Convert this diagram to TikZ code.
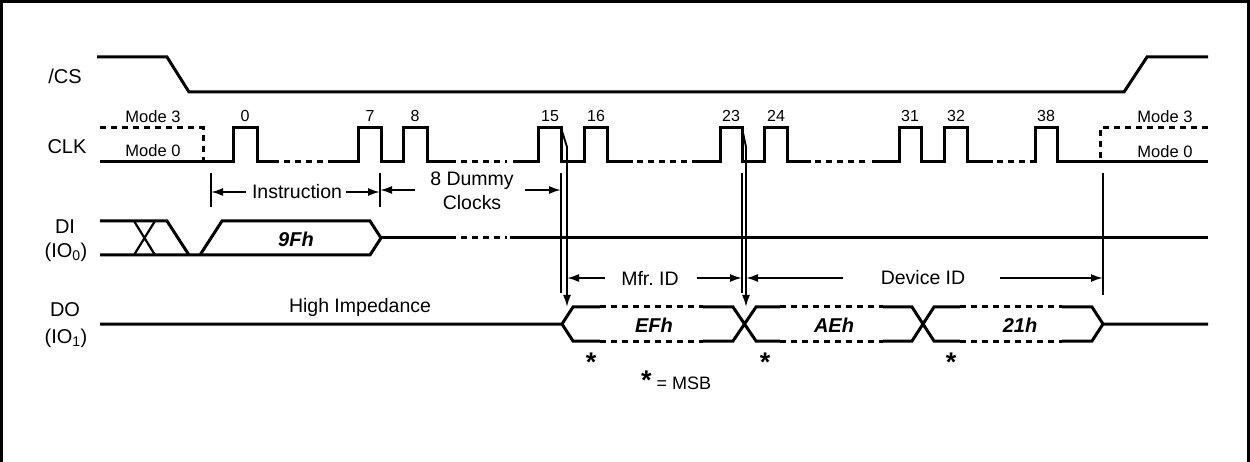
\documentclass[tikz,border=0pt]{standalone}
\usepackage{fontspec}
\setmainfont{Liberation Sans}
\usetikzlibrary{arrows.meta}
\begin{document}
\begin{tikzpicture}[x=1pt,y=-1pt,
  sig/.style={line width=3pt},
  dsh/.style={line width=3pt,dash pattern=on 6pt off 5pt},
  guide/.style={line width=1.9pt},
  dim/.style={line width=1.9pt,-{Latex[length=12pt,width=8pt]}},
  big/.style={inner sep=0pt,font=\fontsize{20}{22}\selectfont},
  med/.style={inner sep=0pt,font=\fontsize{19.5}{22}\selectfont},
  small/.style={inner sep=0pt,font=\fontsize{16}{18}\selectfont},
  modelbl/.style={inner sep=0pt,font=\fontsize{16.5}{18}\selectfont},
  buslbl/.style={inner sep=0pt,font=\fontsize{20}{22}\selectfont\bfseries\itshape},
  star/.style={inner sep=0pt,font=\fontsize{27}{28}\selectfont\bfseries}]
\useasboundingbox (0,0) rectangle (1250,462);
\fill[white] (0,0) rectangle (1250,462);
\draw[line width=3pt] (1.5,462) -- (1.5,1.5) -- (1248.5,1.5) -- (1248.5,462);

% signal names
\node[big] (ncs) at (65,76) {/CS};
\node[big] (nclk) at (67,147) {CLK};
\node[big] (ndi) at (65,227) {DI};
\node[big] (ndi2) at (66,252) {(IO\textsubscript{0})};
\node[big] (ndo) at (65,310) {DO};
\node[big] (ndo2) at (66,338) {(IO\textsubscript{1})};

% /CS
\draw[sig] (97,57) -- (167,57) -- (189,92) -- (1124,92) -- (1147,57) -- (1208,57);

% CLK
\draw[dsh] (100,128) -- (203,128) -- (203,162);
\draw[dsh] (1208,128) -- (1100,128) -- (1100,162);
\node[modelbl] (m3l) at (153,117) {Mode 3};
\node[modelbl] (m0l) at (153,151) {Mode 0};
\node[modelbl] (m3r) at (1165,117) {Mode 3};
\node[modelbl] (m0r) at (1165,152) {Mode 0};
\draw[sig] (100,162) -- (233,162) -- (233,128) -- (257,128) -- (257,162) -- (273,162);
\draw[dsh] (273,162) -- (333,162);
\draw[sig] (333,162) -- (358,162) -- (358,128) -- (381,128) -- (381,162) -- (403,162) -- (403,128) -- (427,128) -- (427,162) -- (450,162);
\draw[dsh] (450,162) -- (507,162);
\draw[sig] (513,162) -- (538,162) -- (538,128) -- (561,128) -- (561,162) -- (584,162) -- (584,128) -- (607,128) -- (607,162) -- (633,162);
\draw[dsh] (637,162) -- (688,162);
\draw[sig] (692,162) -- (720,162) -- (720,128) -- (742,128) -- (742,162) -- (764,162) -- (764,128) -- (787,128) -- (787,162) -- (811,162);
\draw[dsh] (815,162) -- (870,162);
\draw[sig] (872,162) -- (899,162) -- (899,128) -- (921,128) -- (921,162) -- (944,162) -- (944,128) -- (967,128) -- (967,162) -- (993,162);
\draw[dsh] (997,162) -- (1030,162);
\draw[sig] (1030,162) -- (1035,162) -- (1035,128) -- (1057,128) -- (1057,162) -- (1208,162);
\node[small] (c0) at (245,116) {0};
\node[small] (c7) at (370,116) {7};
\node[small] (c8) at (415,116) {8};
\node[small] (c15) at (550,116) {15};
\node[small] (c16) at (596,116) {16};
\node[small] (c23) at (731,116) {23};
\node[small] (c24) at (776,116) {24};
\node[small] (c31) at (910,116) {31};
\node[small] (c32) at (956,116) {32};
\node[small] (c38) at (1046,116) {38};

% DI
\draw[sig] (100,221) -- (167,221) -- (189,255);
\draw[sig] (100,255) -- (370,255) -- (381,238) -- (370,221) -- (222,221) -- (200,255);
\draw[line width=2.2pt] (134,255) -- (155,221) (134,221) -- (155,255);
\draw[sig] (381,238) -- (450,238);
\draw[dsh] (450,238) -- (507,238);
\draw[sig] (510,238) -- (1208,238);
\node[buslbl] (b9f) at (296,239) {9Fh};

% DO
\draw[sig] (100,324) -- (562,324) -- (573,307) -- (600,307) (562,324) -- (573,341) -- (600,341);
\draw[dsh] (600,307) -- (703,307) (600,341) -- (703,341);
\draw[sig] (703,307) -- (733,307) -- (756,341) -- (780,341) (703,341) -- (733,341) -- (756,307) -- (780,307);
\draw[dsh] (780,307) -- (883,307) (780,341) -- (883,341);
\draw[sig] (883,307) -- (912,307) -- (934,341) -- (960,341) (883,341) -- (912,341) -- (934,307) -- (960,307);
\draw[dsh] (960,307) -- (1062,307) (960,341) -- (1062,341);
\draw[sig] (1062,307) -- (1092,307) -- (1103,324) -- (1092,341) -- (1062,341) (1103,324) -- (1208,324);
\node[buslbl] (bef) at (654,325) {EFh};
\node[buslbl] (bae) at (834,325) {AEh};
\node[buslbl] (b21) at (1020,325) {21h};
\node[med] (hiz) at (360,307) {High Impedance};
\node[star] (s1) at (591,362) {*};
\node[star] (s2) at (765,362) {*};
\node[star] (s3) at (951,362) {*};
\node[inner sep=0pt,anchor=base west] (msb) at (641,389) {{\fontsize{27}{28}\selectfont\bfseries *}{\fontsize{18}{20}\selectfont\ = MSB}};

% timing guides
\coordinate (t0) at (211,173);
\coordinate (t1) at (380,173);
\coordinate (t2) at (561,173);
\coordinate (t3) at (742,173);
\coordinate (t4) at (1103,173);
\coordinate (e15) at (561,128);
\coordinate (e23) at (742,128);
\draw[guide] (t0) -- (211,207) (t1) -- (380,207);
\draw[guide] (t2) -- (561,293) (t3) -- (742,293) (t4) -- (1103,295);
\draw[dim] (e15) -- (567,147) -- (567,307);
\draw[dim] (e23) -- (746,147) -- (746,307);

\node[med] (instr) at (297,192) {Instruction};
\draw[dim] ([xshift=-6pt]instr.west) -- (t0 |- instr.west);
\draw[dim] ([xshift=4pt]instr.east) -- (t1 |- instr.east);
\node[med,align=center] (dummy) at (472,191) {8 Dummy\\[2pt]Clocks};
\draw[dim] (415,190) -- (t1 |- 0,190);
\draw[dim] (525,190) -- (t2 |- 0,190);
\node[med] (mfr) at (650,278) {Mfr.\ ID};
\draw[dim] ([xshift=-16pt]mfr.west) -- (567,278);
\draw[dim] ([xshift=18pt]mfr.east) -- (t3 |- mfr.east);
\node[med] (dev) at (923,278) {Device ID};
\draw[dim] ([xshift=-38pt]dev.west) -- (746,278);
\draw[dim] ([xshift=35pt]dev.east) -- (t4 |- dev.east);
\end{tikzpicture}
\end{document}
